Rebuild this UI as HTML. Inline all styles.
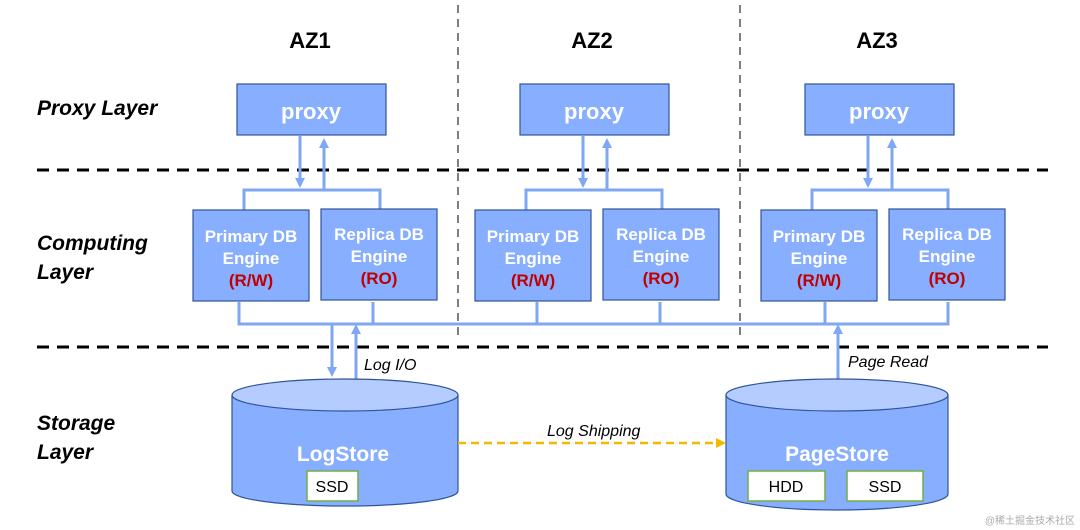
<!DOCTYPE html>
<html><head><style>body{margin:0;background:#fff}svg{display:block}</style></head><body>
<svg width="1080" height="530" xmlns="http://www.w3.org/2000/svg" font-family="Liberation Sans, sans-serif">
<defs>
<marker id="a" markerWidth="10" markerHeight="10" refX="5" refY="5" orient="auto" markerUnits="userSpaceOnUse"><path d="M0,0 L10,5 L0,10 z" fill="#7fa7f5"/></marker>
<marker id="y" markerWidth="10" markerHeight="10" refX="8" refY="5" orient="auto" markerUnits="userSpaceOnUse"><path d="M0,0 L10,5 L0,10 z" fill="#f5b800"/></marker>
</defs>
<g stroke="#808080" stroke-width="2" stroke-dasharray="8,6"><line x1="458" y1="5" x2="458" y2="336"/><line x1="740" y1="5" x2="740" y2="336"/></g>
<g stroke="#000" stroke-width="3" stroke-dasharray="12,8"><line x1="37" y1="170" x2="1048" y2="170"/><line x1="37" y1="347" x2="1048" y2="347"/></g>
<g font-size="22" font-weight="bold" text-anchor="middle"><text x="310" y="48">AZ1</text><text x="592" y="48">AZ2</text><text x="877" y="48">AZ3</text></g>
<g font-size="21" font-weight="bold" font-style="italic"><text x="37" y="115">Proxy Layer</text><text x="37" y="250">Computing</text><text x="37" y="279">Layer</text><text x="37" y="430">Storage</text><text x="37" y="459">Layer</text></g>
<g stroke="#7fa7f5" stroke-width="3" fill="none">
<path d="M244,210 V190 H380 V210"/><path d="M526,210 V190 H662 V210"/><path d="M812,210 V190 H948 V210"/>
<path d="M239,302 V324 H948 V302"/><path d="M373,302 V324"/><path d="M537,302 V324"/><path d="M660,302 V324"/><path d="M825,302 V324"/>
</g>
<g stroke="#7fa7f5" stroke-width="3">
<line x1="300" y1="136" x2="300" y2="183" marker-end="url(#a)"/><line x1="324" y1="190" x2="324" y2="143" marker-end="url(#a)"/>
<line x1="583" y1="136" x2="583" y2="183" marker-end="url(#a)"/><line x1="607" y1="190" x2="607" y2="143" marker-end="url(#a)"/>
<line x1="868" y1="136" x2="868" y2="183" marker-end="url(#a)"/><line x1="892" y1="190" x2="892" y2="143" marker-end="url(#a)"/>
<line x1="332" y1="324" x2="332" y2="372" marker-end="url(#a)"/><line x1="356" y1="379" x2="356" y2="329" marker-end="url(#a)"/>
<line x1="838" y1="379" x2="838" y2="329" marker-end="url(#a)"/>
</g>
<g fill="#88aeff" stroke="#2f5597" stroke-width="1.2">
<rect x="237" y="84" width="149" height="51"/><rect x="520" y="84" width="149" height="51"/><rect x="805" y="84" width="149" height="51"/>
<rect x="193" y="210" width="116" height="91"/><rect x="321" y="209" width="116" height="91"/>
<rect x="475" y="210" width="116" height="91"/><rect x="603" y="209" width="116" height="91"/>
<rect x="761" y="210" width="116" height="91"/><rect x="889" y="209" width="116" height="91"/>
</g>
<g fill="#fff" font-weight="bold" text-anchor="middle" font-size="22"><text x="311" y="119">proxy</text><text x="594" y="119">proxy</text><text x="879" y="119">proxy</text></g>
<g font-weight="bold" text-anchor="middle" font-size="17">
<g fill="#fff"><text x="251" y="242">Primary DB</text><text x="251" y="264">Engine</text><text x="379" y="240">Replica DB</text><text x="379" y="262">Engine</text>
<text x="533" y="242">Primary DB</text><text x="533" y="264">Engine</text><text x="661" y="240">Replica DB</text><text x="661" y="262">Engine</text>
<text x="819" y="242">Primary DB</text><text x="819" y="264">Engine</text><text x="947" y="240">Replica DB</text><text x="947" y="262">Engine</text></g>
<g fill="#c00000"><text x="251" y="286">(R/W)</text><text x="379" y="284">(RO)</text><text x="533" y="286">(R/W)</text><text x="661" y="284">(RO)</text><text x="819" y="286">(R/W)</text><text x="947" y="284">(RO)</text></g>
</g>
<g stroke="#2f5597" stroke-width="1.2">
<path d="M232,395 V491 A113,15 0 0 0 458,491 V395" fill="#88aeff"/><ellipse cx="345" cy="395" rx="113" ry="16" fill="#b4ccff"/>
<path d="M726,395 V494 A111,16 0 0 0 948,494 V395" fill="#88aeff"/><ellipse cx="837" cy="395" rx="111" ry="16" fill="#b4ccff"/>
</g>
<g fill="#fff" font-weight="bold" text-anchor="middle" font-size="21"><text x="343" y="461">LogStore</text><text x="837" y="461">PageStore</text></g>
<g fill="#fff" stroke="#70ad47" stroke-width="1.5"><rect x="307" y="471" width="51" height="30"/><rect x="748" y="471" width="77" height="30"/><rect x="847" y="471" width="76" height="30"/></g>
<g font-size="16" text-anchor="middle"><text x="332" y="492">SSD</text><text x="786" y="492">HDD</text><text x="885" y="492">SSD</text></g>
<line x1="458" y1="443" x2="724" y2="443" stroke="#f5b800" stroke-width="2.5" stroke-dasharray="8,5" marker-end="url(#y)"/>
<g font-size="16" font-style="italic"><text x="364" y="370">Log I/O</text><text x="547" y="436">Log Shipping</text><text x="848" y="367">Page Read</text></g>
<text x="1075" y="524" font-size="10" fill="#aaa" text-anchor="end" font-family="Liberation Sans, Noto Sans CJK SC, sans-serif">@稀土掘金技术社区</text>
</svg>
</body></html>
